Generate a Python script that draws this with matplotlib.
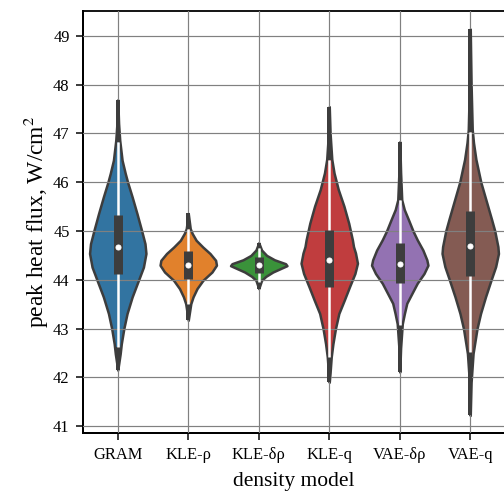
import numpy as np
import matplotlib
matplotlib.use("Agg")
import matplotlib.pyplot as plt


# categories and tab10 colours (seaborn desaturated at 0.75)
models = ["GRAM", "KLE-ρ", "KLE-δρ", "KLE-q", "VAE-δρ", "VAE-q"]
colors = ["#3274a1", "#e1812c", "#3a923a", "#c03d3e", "#9372b2", "#845b53"]

# violin outlines: flux level -> relative density (1 = widest)
gram_levels = [47.69, 47.20, 46.86, 46.45, 46.18, 46.00, 45.70, 45.36, 45.00, 44.74, 44.54,
               44.26, 44.00, 43.65, 43.31, 43.00, 42.69, 42.48, 42.15]
gram_dens = [0.0, 0.03, 0.07, 0.154, 0.266, 0.35, 0.51, 0.68, 0.85, 0.966, 1.0,
             0.91, 0.74, 0.51, 0.33, 0.215, 0.126, 0.085, 0.0]

kle_rho_levels = [45.36, 45.05, 44.95, 44.81, 44.67, 44.54, 44.40, 44.30, 44.16, 43.99,
                  43.82, 43.65, 43.51, 43.17]
kle_rho_dens = [0.0, 0.07, 0.14, 0.28, 0.52, 0.77, 0.97, 1.0, 0.84, 0.52,
                0.31, 0.17, 0.09, 0.0]

kle_drho_levels = [44.76, 44.61, 44.50, 44.41, 44.33, 44.29, 44.23, 44.16, 44.07, 43.99, 43.82]
kle_drho_dens = [0.0, 0.10, 0.28, 0.56, 0.95, 1.0, 0.77, 0.50, 0.25, 0.10, 0.0]

kle_q_levels = [47.55, 47.00, 46.47, 46.19, 45.85, 45.51, 45.16, 44.82, 44.68, 44.55, 44.34,
                44.13, 43.86, 43.58, 43.31, 43.00, 42.69, 42.42, 42.10, 41.90]
kle_q_dens = [0.0, 0.03, 0.09, 0.17, 0.32, 0.52, 0.69, 0.82, 0.86, 0.93, 1.0,
              0.91, 0.72, 0.53, 0.34, 0.22, 0.13, 0.07, 0.03, 0.0]

vae_drho_levels = [46.83, 46.20, 45.64, 45.44, 45.23, 45.00, 44.82, 44.61, 44.41, 44.30,
                   44.13, 43.93, 43.72, 43.52, 43.31, 43.10, 42.60, 42.11]
vae_drho_dens = [0.0, 0.03, 0.07, 0.16, 0.31, 0.47, 0.62, 0.82, 0.96, 1.0,
                 0.86, 0.62, 0.43, 0.25, 0.165, 0.09, 0.03, 0.0]

vae_q_levels = [49.14, 48.00, 47.08, 46.81, 46.47, 46.00, 45.57, 45.23, 45.00, 44.68, 44.54,
                44.27, 44.00, 43.65, 43.31, 43.00, 42.69, 42.49, 41.90, 41.22]
vae_q_dens = [0.0, 0.03, 0.07, 0.115, 0.20, 0.375, 0.59, 0.76, 0.87, 0.98, 1.0,
              0.90, 0.74, 0.54, 0.365, 0.24, 0.155, 0.10, 0.03, 0.0]

# inner box stats: min, lower whisker, q1, median, q3, upper whisker, max
data_min = [42.15, 43.17, 43.82, 41.90, 42.11, 41.22]
whisk_lo = [42.62, 43.51, 43.96, 42.42, 43.07, 42.52]
q1 = [44.11, 44.01, 44.13, 43.85, 43.94, 44.07]
median = [44.68, 44.31, 44.31, 44.40, 44.33, 44.69]
q3 = [45.32, 44.59, 44.47, 45.03, 44.76, 45.41]
whisk_hi = [46.83, 45.05, 44.65, 46.45, 45.63, 47.04]
data_max = [47.69, 45.36, 44.76, 47.55, 46.83, 49.14]

profiles = [
    (gram_levels, gram_dens),
    (kle_rho_levels, kle_rho_dens),
    (kle_drho_levels, kle_drho_dens),
    (kle_q_levels, kle_q_dens),
    (vae_drho_levels, vae_drho_dens),
    (vae_q_levels, vae_q_dens),
]

plt.rcParams["font.family"] = ["Liberation Serif", "DejaVu Serif"]
plt.rcParams["mathtext.fontset"] = "stix"

DARK = "#3d3d3d"
HALF_W = 0.4

fig = plt.figure(figsize=(7, 492 / 72), dpi=72)
ax = fig.add_axes([82.5 / 504, 59 / 492, 423 / 504, 422 / 492])

for i, (levels, dens) in enumerate(profiles):
    levels = np.array(levels)
    half = HALF_W * np.array(dens)
    ax.fill_betweenx(levels, i - half, i + half, facecolor=colors[i],
                     edgecolor=DARK, linewidth=2.5, zorder=1)
    # dark whisker tails outside the violin body
    ax.plot([i, i], [data_min[i], whisk_lo[i]], color=DARK, lw=4,
            solid_capstyle="butt", zorder=3)
    ax.plot([i, i], [whisk_hi[i], data_max[i]], color=DARK, lw=4,
            solid_capstyle="butt", zorder=3)
    ax.plot([i, i], [whisk_lo[i], whisk_hi[i]], color="white", lw=2.5,
            solid_capstyle="butt", zorder=4)
    ax.plot([i, i], [q1[i], q3[i]], color=DARK, lw=9,
            solid_capstyle="butt", zorder=5)
    ax.plot(i, median[i], "o", color="white", markersize=5, zorder=6)

ax.set_xlim(-0.5, 5.5)
ax.set_ylim(40.86, 49.51)
ax.set_xticks(range(len(models)))
ax.set_xticklabels(models)
ax.set_yticks(range(41, 50))

ax.set_axisbelow(False)
ax.grid(True, color="#808080", linewidth=1.2)
ax.tick_params(labelsize=16.5, length=7, width=1.5, color="black")
ax.tick_params(axis="x", pad=7)
ax.tick_params(axis="y", pad=6)
for side in ["left", "bottom"]:
    ax.spines[side].set_linewidth(2)
ax.spines["top"].set_linewidth(1.8)

ax.set_xlabel("density model", fontsize=21.5, labelpad=9)
ax.set_ylabel("peak heat flux, W/cm$^2$", fontsize=23.5, labelpad=3)

fig.savefig("out.png", dpi=72)
